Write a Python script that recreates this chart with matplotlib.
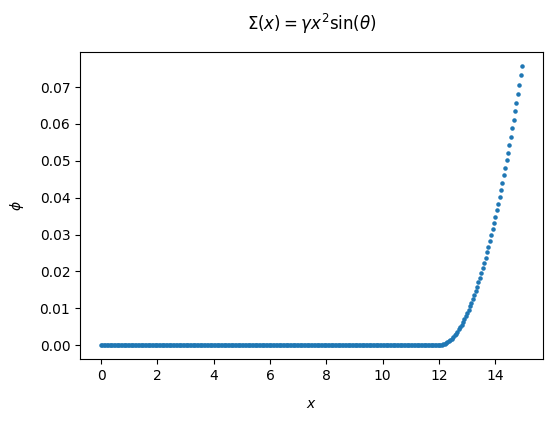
import matplotlib
matplotlib.use('Agg')
import matplotlib.pyplot as plt
import numpy as np

# evenly spaced grid: 0 .. 14.95, step 0.05
x_start = 0.0
x_step = 0.05
n_points = 300

# phi is flat at zero up to x = 11.95
phi_flat = [0.0] * 240
# phi from x = 12.00 to 14.95
phi_rise = [0.0, 0.00002, 0.00009, 0.0002, 0.00035, 0.00054, 0.00078, 0.00107,
            0.00139, 0.00176, 0.00218, 0.00263, 0.00313, 0.00368, 0.00426,
            0.00489, 0.00557, 0.00629, 0.00705, 0.00785, 0.00870, 0.00959,
            0.01053, 0.01151, 0.01253, 0.01359, 0.01470, 0.01586, 0.01705,
            0.01829, 0.01958, 0.02090, 0.02227, 0.02369, 0.02514, 0.02664,
            0.02819, 0.02978, 0.03141, 0.03308, 0.03480, 0.03656, 0.03837,
            0.04022, 0.04211, 0.04404, 0.04602, 0.04805, 0.05011, 0.05222,
            0.05438, 0.05657, 0.05881, 0.06110, 0.06342, 0.06579, 0.06821,
            0.07067, 0.07317, 0.07571]

x = x_start + x_step * np.arange(n_points)
phi = np.array(phi_flat + phi_rise)

fig = plt.figure(figsize=(5.52, 4.21), dpi=100)
ax = fig.add_axes([0.145, 0.147, 0.839, 0.7295])
ax.plot(x, phi, '.', color='#1f77b4', markersize=4.5)

ax.set_title(r'$\Sigma(x) = \gamma x^2 \sin(\theta)$', fontsize=12, pad=16)
ax.set_xlabel(r'$x$', labelpad=10)
ax.set_ylabel(r'$\phi$', labelpad=10)

fig.savefig('out.png', dpi=100)
